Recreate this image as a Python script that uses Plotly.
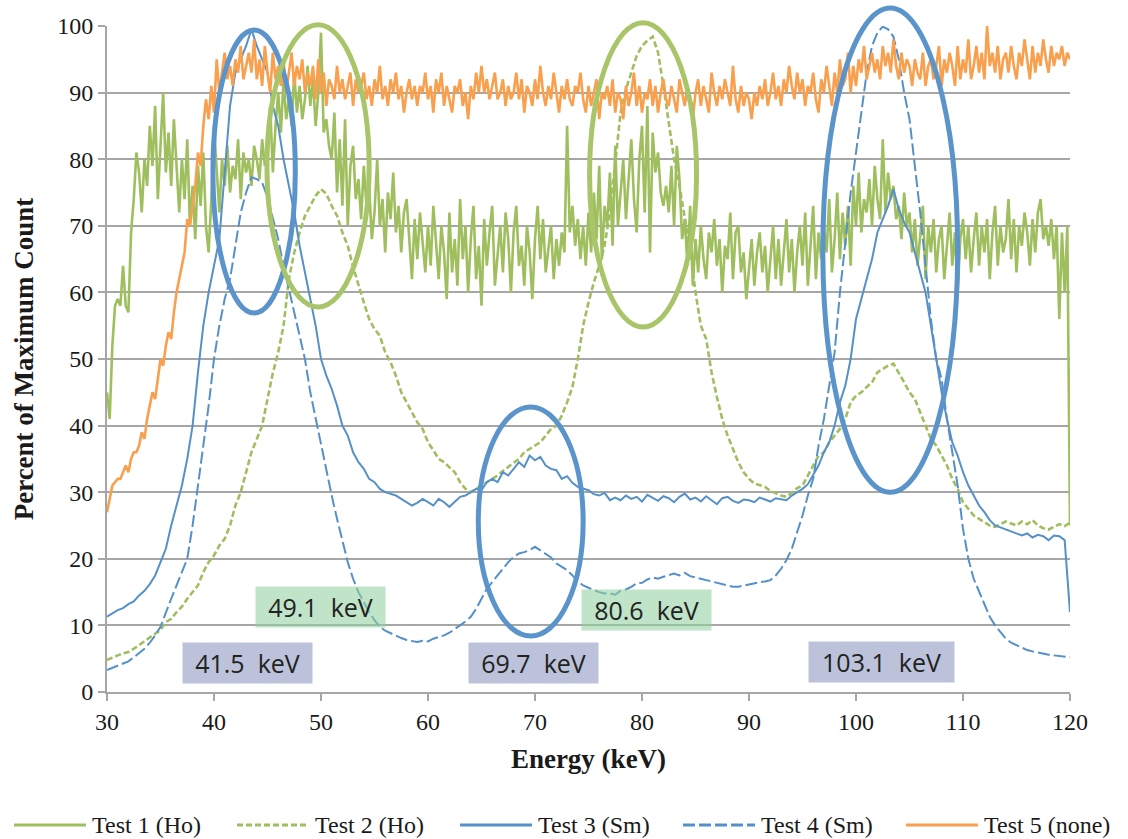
import numpy as np
import plotly.graph_objects as go

# ---------------- data ----------------
# noisy series sampled every 0.25 keV (30..120)
x_fine = np.round(np.arange(361) * 0.25 + 30, 2)
# smooth series sampled every 0.5 keV (30..120)
x_half = np.round(np.arange(181) * 0.5 + 30, 2)

test1_ho = [
    45, 41, 52, 58, 59, 58, 64, 58, 57, 69, 74, 81, 78, 72, 80, 76,
    85, 79, 88, 74, 82, 90, 78, 84, 76, 86, 79, 72, 80, 74, 83, 70,
    76, 68, 79, 73, 81, 70, 66, 74, 85, 78, 72, 80, 76, 82, 75, 79,
    77, 83, 74, 81, 78, 80, 76, 82, 80, 77, 83, 79, 82, 88, 78, 85,
    90, 84, 92, 86, 89, 85, 93, 87, 91, 86, 89, 94, 88, 92, 85, 90,
    99, 84, 86, 82, 80, 87, 75, 83, 73, 86, 70, 79, 82, 74, 77, 71,
    79, 73, 76, 68, 72, 80, 70, 74, 66, 75, 71, 78, 69, 73, 66, 72,
    74, 68, 62, 71, 65, 72, 67, 63, 70, 64, 73, 68, 62, 70, 66, 59,
    72, 63, 68, 61, 74, 65, 70, 60, 68, 73, 62, 67, 58, 71, 64, 69,
    73, 61, 66, 70, 63, 72, 68, 60, 69, 73, 64, 67, 61, 70, 66, 59,
    68, 73, 65, 71, 63, 67, 70, 62, 68, 64, 69, 66, 85, 69, 73, 67,
    71, 65, 70, 64, 72, 66, 75, 68, 79, 65, 73, 70, 78, 67, 82, 70,
    75, 80, 71, 77, 83, 74, 69, 80, 85, 72, 88, 66, 84, 78, 81, 75,
    73, 76, 72, 79, 70, 82, 77, 68, 71, 64, 73, 61, 68, 63, 70, 65,
    62, 69, 66, 71, 64, 68, 60, 67, 65, 72, 62, 69, 70, 63, 66, 59,
    64, 68, 61, 66, 69, 63, 67, 60, 65, 70, 62, 68, 61, 66, 71, 63,
    68, 60, 66, 70, 64, 72, 61, 67, 73, 62, 69, 65, 70, 66, 74, 63,
    68, 75, 65, 72, 67, 73, 64, 76, 70, 78, 69, 74, 72, 77, 70, 79,
    74, 71, 83, 72, 78, 74, 76, 71, 73, 68, 75, 70, 72, 66, 71, 64,
    69, 73, 62, 70, 66, 71, 63, 68, 70, 62, 67, 72, 64, 69, 60, 68,
    71, 65, 70, 63, 68, 72, 64, 70, 66, 71, 62, 69, 73, 64, 70, 66,
    68, 74, 65, 71, 63, 70, 67, 72, 69, 64, 71, 66, 72, 74, 68, 70,
    67, 71, 65, 70, 56, 69, 60, 70, 25,
]

test5_none = [
    27, 29, 31, 31.5, 32, 32, 33, 34, 33, 35, 36, 36, 37, 39, 38, 41,
    43, 45, 44, 47, 50, 49, 52, 54, 53, 57, 60, 62, 64, 66, 71, 70,
    73, 76, 81, 79, 85, 89, 86, 91, 87, 95, 90, 93, 96, 92, 94, 91,
    95, 93, 97, 92, 94, 96, 93, 98, 92, 95, 91, 97, 93, 90, 96, 92,
    94, 91, 95, 90, 93, 96, 91, 94, 92, 95, 90, 93, 91, 94, 89, 95,
    90, 93, 88, 92, 91, 89, 94, 90, 92, 89, 91, 93, 88, 92, 90, 91,
    93, 89, 91, 88, 92, 90, 94, 89, 91, 88, 92, 90, 93, 89, 91, 87,
    90, 92, 89, 91, 88, 91, 90, 93, 89, 91, 87, 92, 90, 93, 88, 91,
    89, 87, 91, 90, 92, 88, 90, 86, 91, 89, 93, 90, 94, 90, 92, 89,
    91, 93, 89, 90, 92, 88, 91, 89, 90, 93, 89, 92, 87, 91, 90, 88,
    92, 89, 94, 90, 88, 91, 89, 93, 90, 87, 91, 89, 92, 89, 88, 91,
    90, 93, 89, 87, 91, 88, 90, 92, 86, 90, 89, 91, 88, 92, 87, 90,
    89, 86, 91, 88, 90, 93, 88, 91, 87, 90, 89, 92, 88, 91, 87, 90,
    92, 89, 88, 91, 89, 87, 92, 90, 88, 91, 89, 86, 90, 92, 88, 91,
    89, 87, 93, 90, 88, 91, 89, 92, 90, 88, 94, 89, 87, 91, 88, 90,
    89, 86, 90, 88, 91, 89, 92, 88, 90, 93, 89, 91, 88, 92, 90, 94,
    91, 89, 93, 90, 92, 88, 91, 90, 93, 89, 87, 92, 90, 94, 91, 88,
    93, 90, 95, 91, 92, 96, 90, 94, 91, 95, 93, 97, 92, 94, 96, 93,
    95, 92, 97, 94, 96, 93, 98, 94, 92, 96, 93, 95, 94, 91, 95, 93,
    92, 96, 91, 94, 95, 92, 94, 97, 91, 95, 93, 96, 94, 91, 97, 92,
    95, 93, 98, 92, 94, 97, 93, 96, 92, 100, 94, 96, 93, 97, 92, 95,
    96, 93, 97, 94, 92, 96, 94, 98, 95, 92, 97, 93, 96, 94, 98, 95,
    93, 97, 94, 96, 95, 97, 94, 96, 95,
]

test2_ho = [
    4.8, 5.2, 5.5, 5.8, 6.0, 6.5, 7.0, 7.6, 8.2, 8.8,
    9.3, 10.5, 11.0, 12.0, 12.8, 14.0, 15.0, 16.0, 18.0, 19.5,
    20.5, 22.0, 23.0, 25.0, 28.0, 30.0, 33.0, 36.0, 38.0, 40.0,
    44.0, 47.9, 51.0, 55.0, 62.0, 66.0, 69.0, 71.5, 73.0, 74.5,
    75.5, 74.8, 73.0, 71.5, 69.0, 67.0, 63.8, 61.0, 58.5, 56.0,
    54.5, 53.5, 51.0, 49.5, 47.5, 45.0, 43.5, 42.0, 40.5, 39.5,
    37.5, 36.3, 35.0, 34.5, 33.8, 33.0, 31.5, 30.5, 30.0, 30.5,
    31.0, 31.5, 32.0, 32.5, 33.2, 33.8, 34.5, 35.0, 36.0, 36.5,
    37.0, 37.5, 38.5, 39.5, 40.0, 41.5, 43.5, 45.8, 50.0, 55.0,
    58.5, 61.5, 64.0, 67.0, 72.0, 80.0, 87.0, 90.5, 93.0, 95.5,
    97.0, 97.8, 98.4, 96.0, 91.0, 85.5, 80.0, 76.0, 71.0, 66.4,
    60.0, 55.0, 53.0, 48.0, 44.3, 41.0, 38.5, 36.5, 34.5, 33.0,
    32.0, 31.3, 31.0, 30.8, 30.2, 29.8, 29.5, 29.3, 30.0, 30.6,
    31.0, 32.5, 34.0, 35.5, 36.0, 37.5, 38.5, 39.5, 41.0, 43.5,
    44.5, 45.0, 45.8, 46.5, 48.0, 48.5, 49.0, 49.3, 48.0, 46.5,
    45.0, 44.0, 42.0, 40.0, 38.0, 37.0, 35.5, 34.0, 32.0, 30.5,
    28.5, 27.5, 26.5, 26.0, 25.5, 25.0, 24.8, 25.2, 25.6, 25.3,
    25.0, 25.6, 25.2, 25.8, 25.0, 24.6, 24.4, 24.8, 25.2, 24.9,
    25.4,
]

test3_sm = [
    11.3, 11.8, 12.3, 12.6, 13.2, 13.6, 14.5, 15.2, 16.2, 17.5,
    19.5, 21.5, 25.0, 28.0, 31.0, 35.0, 40.0, 48.0, 55.0, 60.0,
    64.0, 68.0, 78.0, 88.0, 93.0, 95.0, 97.0, 99.5, 97.0, 95.0,
    93.0, 88.0, 85.0, 80.0, 76.0, 72.0, 67.0, 63.0, 59.0, 55.0,
    50.0, 47.5, 45.5, 43.0, 40.0, 38.5, 36.0, 34.5, 33.5, 32.0,
    31.5, 30.5, 30.0, 29.8, 29.5, 29.0, 28.5, 28.0, 28.4, 29.0,
    28.5, 28.0, 29.0, 28.5, 27.8, 28.6, 29.3, 29.5, 30.0, 30.5,
    30.3, 31.5, 32.0, 31.5, 33.0, 32.5, 33.5, 34.5, 33.8, 35.5,
    34.8, 35.3, 34.0, 33.5, 33.3, 32.0, 32.4, 31.4, 30.8, 30.6,
    30.3, 29.7, 29.5, 29.9, 28.8, 29.2, 28.8, 29.5, 29.0, 29.3,
    28.6, 29.6, 29.2, 28.7, 29.4, 29.1, 28.5, 29.3, 29.8, 28.9,
    29.2, 28.6, 29.4, 28.8, 28.2, 29.1, 29.3, 28.7, 28.4, 28.9,
    28.8, 28.5, 29.2, 28.9, 28.6, 29.1, 28.9, 28.8, 29.5, 30.0,
    30.5, 31.2, 32.5, 34.0, 36.0, 37.5, 40.0, 43.5, 46.0, 50.0,
    56.0, 59.0, 62.0, 65.0, 69.0, 71.0, 73.0, 75.5, 72.5, 70.5,
    69.0, 66.0, 63.0, 60.0, 55.0, 50.0, 45.0, 41.0, 37.5, 35.5,
    33.0, 31.0, 29.5, 28.0, 27.0, 25.8, 25.0, 24.7, 24.5, 24.2,
    23.8, 23.5, 23.8, 23.2, 23.6, 23.4, 22.8, 23.5, 23.4, 22.8,
    12.0,
]

test4_sm = [
    3.3, 3.6, 4.0, 4.3, 4.6, 5.2, 5.8, 6.5, 7.4, 8.5,
    9.8, 12.0, 14.0, 16.0, 18.0, 20.0, 25.0, 31.0, 37.0, 43.0,
    50.0, 55.0, 59.0, 62.0, 67.0, 72.0, 75.0, 77.3, 77.0, 76.5,
    74.3, 71.0, 68.0, 64.0, 60.5, 57.0, 53.0, 50.0, 45.0, 41.0,
    37.0, 33.0, 29.5, 26.0, 22.5, 19.5, 17.0, 15.0, 13.5, 12.0,
    10.8, 9.8, 9.2, 8.8, 8.4, 8.1, 7.8, 7.6, 7.5, 7.7,
    7.6, 8.0, 8.2, 8.5, 8.9, 9.4, 10.0, 10.6, 11.3, 12.5,
    14.0, 15.5, 16.5, 17.5, 18.5, 19.5, 20.3, 20.8, 21.0, 21.3,
    21.8, 21.3, 20.8, 20.2, 19.3, 18.8, 18.3, 17.5, 16.6, 16.0,
    15.6, 15.3, 15.0, 14.8, 14.8, 14.6, 15.2, 15.4, 15.8, 16.3,
    16.4, 16.9, 17.2, 17.0, 17.3, 17.6, 17.8, 17.5, 17.9, 17.4,
    17.2, 16.9, 16.8, 16.5, 16.3, 16.1, 16.0, 15.8, 15.8, 16.0,
    16.1, 16.4, 16.5, 16.6, 16.8, 17.5, 18.5, 19.8, 21.5, 24.0,
    26.5, 29.5, 32.0, 37.0, 41.0, 46.0, 51.0, 60.0, 68.0, 75.0,
    81.0, 87.0, 93.0, 97.0, 99.0, 99.9, 99.5, 98.4, 95.0, 90.0,
    86.0, 79.0, 72.0, 64.0, 56.0, 50.0, 47.0, 41.0, 36.0, 31.0,
    24.5, 20.0, 17.0, 15.0, 13.0, 11.3, 10.0, 9.0, 8.0, 7.4,
    7.0, 6.6, 6.3, 6.1, 5.9, 5.8, 5.6, 5.5, 5.4, 5.3,
    5.2,
]

series_names = ["Test 1 (Ho)", "Test 2 (Ho)", "Test 3 (Sm)", "Test 4 (Sm)", "Test 5 (none)"]
x_tick_vals = [30, 40, 50, 60, 70, 80, 90, 100, 110, 120]
y_tick_vals = [0, 10, 20, 30, 40, 50, 60, 70, 80, 90, 100]

# peak labels: text, energy centre, y centre (data units)
peak_labels = ["41.5\u00a0 keV", "49.1\u00a0 keV", "69.7\u00a0 keV", "80.6\u00a0 keV", "103.1\u00a0 keV"]
peak_label_x = [43.13, 49.91, 69.86, 80.42, 102.38]
peak_label_y = [4.43, 12.76, 4.43, 12.31, 4.58]
peak_label_kind = ["sm", "ho", "sm", "ho", "sm"]

# highlight ellipses: (x0, x1, y0, y1) in data units
ellipse_x0 = [39.9, 44.95, 75.1, 96.9, 64.7]
ellipse_x1 = [47.6, 54.5, 85.1, 109.5, 74.5]
ellipse_y0 = [56.9, 57.8, 54.8, 30.0, 8.4]
ellipse_y1 = [99.4, 100.2, 100.5, 102.7, 42.8]
ellipse_kind = ["sm", "ho", "ho", "sm", "sm"]

# ---------------- styles ----------------
GREEN = "#9FBF5F"
BLUE = "#5690C8"
ORANGE = "#F8A04E"
GRID = "#A6A6A6"
SERIF = "Liberation Serif, Times New Roman, serif"

styles = [
    dict(color=GREEN, width=2.6, dash="solid"),
    dict(color=GREEN, width=2.6, dash="6px,3px"),
    dict(color=BLUE, width=2.0, dash="solid"),
    dict(color=BLUE, width=2.0, dash="12px,4px"),
    dict(color=ORANGE, width=2.6, dash="solid"),
]

fig = go.Figure()
data_x = [x_fine, x_half, x_half, x_half, x_fine]
data_y = [test1_ho, test2_ho, test3_sm, test4_sm, test5_none]
for name, xs, ys, st in zip(series_names, data_x, data_y, styles):
    fig.add_trace(go.Scatter(x=xs, y=ys, mode="lines", name=name, line=st,
                             showlegend=False, hoverinfo="x+y+name"))

# figure geometry (page body margin is removed via post_script)
W, H = 1128, 839
L, R, T, B = 107, 58, 26, 147
PW, PH = W - L - R, H - T - B
XMIN, XMAX, YMIN, YMAX = 30, 120, 0, 100

def paper_x(v):
    return (v - XMIN) / (XMAX - XMIN)

def paper_y(v):
    return (v - YMIN) / (YMAX - YMIN)

shapes = []
for x0, x1, y0, y1, kind in zip(ellipse_x0, ellipse_x1, ellipse_y0, ellipse_y1, ellipse_kind):
    col = "#5B93CB" if kind == "sm" else "#A8C569"
    shapes.append(dict(type="circle", xref="paper", yref="paper",
                       x0=paper_x(x0), x1=paper_x(x1), y0=paper_y(y0), y1=paper_y(y1),
                       line=dict(color=col, width=5), layer="above"))

annotations = []
for txt, xc, yc, kind in zip(peak_labels, peak_label_x, peak_label_y, peak_label_kind):
    bg = "rgba(178,185,212,0.88)" if kind == "sm" else "rgba(146,208,160,0.58)"
    w = 145 if txt.startswith("103") else 129
    annotations.append(dict(x=xc, y=yc, xref="x", yref="y", text=txt, showarrow=False,
                            xanchor="center", yanchor="middle", width=w, height=40,
                            bgcolor=bg, borderpad=0, align="center",
                            font=dict(family="Open Sans, Noto Sans, sans-serif", size=25, color="#222222")))

# custom legend below the chart (long line samples as in the reference)
leg_py = 825
for i, (name, st) in enumerate(zip(series_names, styles)):
    lx0 = 14 + 223 * i
    lx1 = 86 + 223 * i
    ly = (H - B - leg_py) / PH
    shapes.append(dict(type="line", xref="paper", yref="paper",
                       x0=(lx0 - L) / PW, x1=(lx1 - L) / PW, y0=ly, y1=ly,
                       line=dict(color=st["color"], width=3.2, dash=st["dash"])))
    annotations.append(dict(x=(90 + 223 * i - L) / PW, y=ly, xref="paper", yref="paper",
                            text=name, showarrow=False, xanchor="left", yanchor="middle",
                            font=dict(family=SERIF, size=24, color="#1a1a1a")))

fig.update_layout(
    width=W, height=H,
    margin=dict(l=L, r=R, t=T, b=B),
    paper_bgcolor="white", plot_bgcolor="white",
    showlegend=False,
    shapes=shapes, annotations=annotations,
    font=dict(family=SERIF, color="#1a1a1a"),
)
fig.update_xaxes(range=[XMIN, XMAX], tickvals=x_tick_vals, showgrid=False, zeroline=False,
                 showline=True, linecolor=GRID, linewidth=2,
                 ticks="outside", ticklen=7, tickwidth=2, tickcolor=GRID,
                 tickfont=dict(family=SERIF, size=24, color="#1a1a1a"),
                 title=dict(text="<b>Energy (keV)</b>", font=dict(family=SERIF, size=27, color="#1a1a1a"), standoff=15))
fig.update_yaxes(range=[YMIN, YMAX], tickvals=y_tick_vals, showgrid=True, gridcolor=GRID, gridwidth=2,
                 zeroline=False, showline=True, linecolor=GRID, linewidth=2,
                 ticks="outside", ticklen=7, tickwidth=2, tickcolor=GRID,
                 tickfont=dict(family=SERIF, size=24, color="#1a1a1a"),
                 title=dict(text="<b>Percent of Maximum Count</b>", font=dict(family=SERIF, size=27, color="#1a1a1a"), standoff=16))

fig.write_html("out.html", config={"displayModeBar": False},
               post_script="document.body.style.margin='0px';document.body.style.overflow='hidden';")
